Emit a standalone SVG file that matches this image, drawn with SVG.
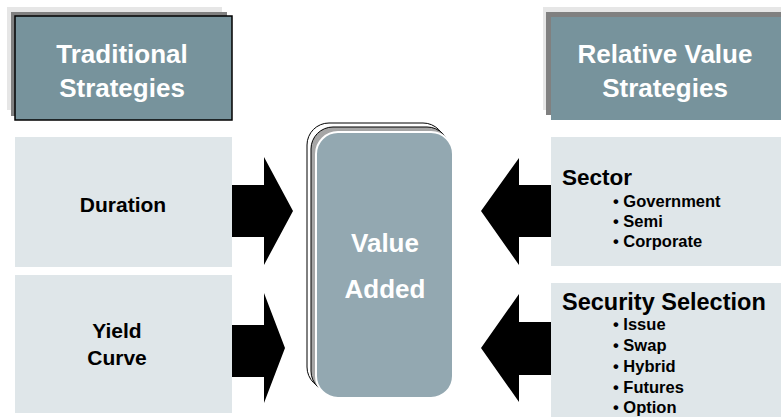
<svg xmlns="http://www.w3.org/2000/svg" width="781" height="417" viewBox="0 0 781 417">
<style>
text{font-family:"Liberation Sans",Arial,sans-serif;font-weight:bold}
.hd{fill:#FFFFFF;font-size:26px;text-anchor:middle}
.lb{fill:#000000;font-size:21px;text-anchor:middle}
.sh{fill:#000000;font-size:22.5px}
.bl{fill:#000000;font-size:16.5px}
.lite{fill:#E6E6E6}
.dark{fill:#808080}
.hbox{fill:#77939C}
.pale{fill:#DFE6E9}
.arrow{fill:#000000}
</style>
<rect width="781" height="417" fill="#FFFFFF"/>
<g id="traditional">
<rect class="lite" x="7" y="7" width="215" height="103"/>
<rect class="dark" x="11" y="12" width="216" height="104"/>
<rect class="hbox" x="15" y="16" width="217" height="104" stroke="#000" stroke-width="1.5"/>
<text class="hd" x="122" y="63">Traditional</text>
<text class="hd" x="122" y="97">Strategies</text>
</g>
<g id="relative">
<rect class="lite" x="543" y="7" width="238" height="103"/>
<rect class="dark" x="546" y="12" width="235" height="103"/>
<rect class="hbox" x="551" y="17" width="230" height="103"/>
<text class="hd" x="665" y="63">Relative Value</text>
<text class="hd" x="665" y="97">Strategies</text>
</g>
<g id="duration">
<rect class="pale" x="15" y="137" width="217" height="130"/>
<text class="lb" x="123" y="212">Duration</text>
</g>
<g id="yield">
<rect class="pale" x="15" y="275" width="217" height="138"/>
<text class="lb" x="117" y="338">Yield</text>
<text class="lb" x="117" y="365">Curve</text>
</g>
<g id="sector">
<rect class="pale" x="551" y="137" width="230" height="129"/>
<text class="sh" x="562" y="185">Sector</text>
<text class="bl" x="613" y="207">• Government</text>
<text class="bl" x="613" y="227">• Semi</text>
<text class="bl" x="613" y="247">• Corporate</text>
</g>
<g id="security">
<rect class="pale" x="551" y="283" width="230" height="134"/>
<text class="sh" x="562" y="310" style="font-size:23.5px">Security Selection</text>
<text class="bl" x="613" y="330">• Issue</text>
<text class="bl" x="613" y="351">• Swap</text>
<text class="bl" x="613" y="372">• Hybrid</text>
<text class="bl" x="613" y="393">• Futures</text>
<text class="bl" x="613" y="413">• Option</text>
</g>
<g id="value-added">
<rect x="307" y="123" width="138" height="266" rx="22" fill="#FFFFFF" stroke="#000" stroke-width="1"/>
<rect x="311" y="127" width="138" height="266" rx="22" fill="#A6A6A6" stroke="#000" stroke-width="1"/>
<rect x="316" y="132" width="137" height="266" rx="22" fill="#93A8B1" stroke="#FFFFFF" stroke-width="2"/>
<text class="hd" x="385" y="252">Value</text>
<text class="hd" x="385" y="298">Added</text>
</g>
<g id="connectors">
<polygon class="arrow" points="232,185 264,185 264,157 293,211 264,265 264,237 232,237"/>
<polygon class="arrow" points="232,325 264,325 264,293 285,348 264,403 264,377 232,377"/>
<polygon class="arrow" points="551,185 519,185 519,158 481,211 519,265 519,237 551,237"/>
<polygon class="arrow" points="551,322 519,322 519,294 481,348 519,402 519,375 551,375"/>
</g>
</svg>
